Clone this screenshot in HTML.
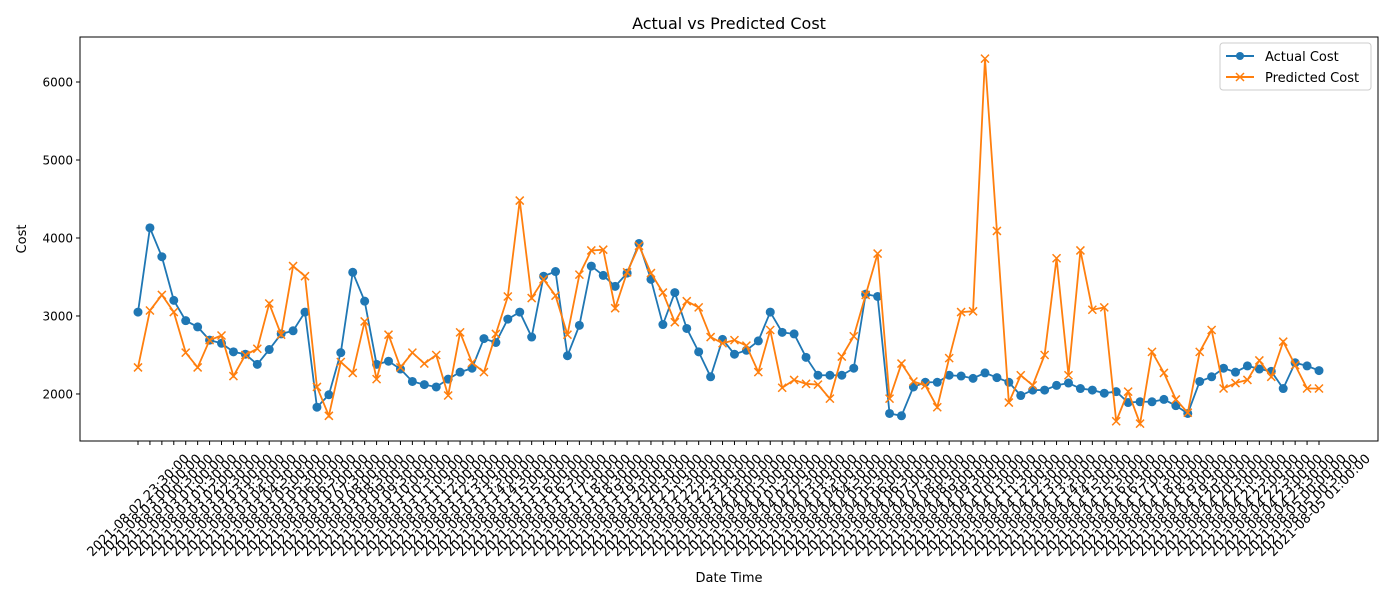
<!DOCTYPE html>
<html><head><meta charset="utf-8"><style>
body{margin:0;background:#fff;font-family:"Liberation Sans","DejaVu Sans",sans-serif;}
svg text{font-family:"DejaVu Sans","Liberation Sans",sans-serif;}
</style></head><body>
<svg id="chart" width="1400" height="600" xmlns="http://www.w3.org/2000/svg">
<text x="729" y="29" font-size="16" text-anchor="middle">Actual vs Predicted Cost</text>
<text x="729" y="582" font-size="13" text-anchor="middle">Date Time</text>
<text x="26" y="239" font-size="13" text-anchor="middle" transform="rotate(-90 26 239)">Cost</text>
<g id="grid"></g>
<g id="series"></g>
<rect x="80" y="37" width="1298" height="404" fill="none" stroke="#000" stroke-width="1"/>
<g>
<rect x="1220" y="43" width="151" height="47" rx="3" fill="#fff" stroke="#ccc"/>
<g>
<line x1="1226" y1="56" x2="1254" y2="56" stroke="#1f77b4" stroke-width="2"/><circle cx="1240" cy="56" r="4" fill="#1f77b4"/>
<text x="1265" y="61" font-size="13">Actual Cost</text></g>
<g>
<line x1="1226" y1="77" x2="1254" y2="77" stroke="#ff7f0e" stroke-width="2"/><path d="M1236,73 l8,8 M1244,73 l-8,8" stroke="#ff7f0e" stroke-width="1.5"/>
<text x="1265" y="82" font-size="13">Predicted Cost</text></g>
</g>
</svg>
<script>
const actual=[3050,4130,3760,3200,2940,2860,2690,2650,2540,2510,2380,2570,2770,2810,3050,1830,1990,2530,3560,3190,2380,2420,2320,2160,2120,2090,2190,2280,2330,2710,2660,2960,3050,2730,3510,3570,2490,2880,3640,3520,3380,3550,3930,3470,2890,3300,2840,2540,2220,2700,2510,2560,2680,3050,2790,2770,2470,2240,2240,2240,2330,3280,3250,1750,1720,2090,2150,2150,2240,2230,2200,2270,2210,2150,1980,2050,2050,2110,2140,2070,2050,2010,2030,1890,1900,1900,1930,1850,1750,2160,2220,2330,2280,2360,2320,2290,2070,2400,2360,2300];
const predicted=[2340,3070,3270,3050,2530,2340,2690,2750,2230,2500,2580,3160,2760,3640,3510,2090,1720,2410,2270,2930,2190,2760,2340,2530,2390,2500,1980,2790,2400,2280,2770,3250,4480,3230,3470,3260,2760,3530,3840,3850,3100,3560,3900,3550,3300,2920,3190,3110,2730,2650,2690,2620,2280,2820,2080,2180,2130,2120,1940,2480,2740,3270,3800,1940,2390,2160,2110,1830,2460,3050,3060,6300,4090,1890,2240,2110,2500,3740,2240,3840,3080,3110,1650,2030,1620,2540,2270,1930,1760,2540,2820,2070,2140,2180,2430,2220,2670,2370,2070,2070];
const yTicks=[2000,3000,4000,5000,6000];
const startTime=Date.UTC(2021,7,2,23,30);
const categories=[];
for(let i=0;i<actual.length;i++){
  const d=new Date(startTime+i*1800000);
  const p=n=>String(n).padStart(2,'0');
  categories.push(`${d.getUTCFullYear()}-${p(d.getUTCMonth()+1)}-${p(d.getUTCDate())} ${p(d.getUTCHours())}:${p(d.getUTCMinutes())}:00`);
}
const NS="http://www.w3.org/2000/svg";
const X0=138,X1=1319,yMin=1397,yMax=6577,plotTop=37,plotBot=441;
const xs=i=>X0+(X1-X0)*i/(categories.length-1);
const ys=v=>plotBot-(v-yMin)/(yMax-yMin)*(plotBot-plotTop);
function mk(tag,attrs,parent){const e=document.createElementNS(NS,tag);for(const k in attrs)e.setAttribute(k,attrs[k]);parent.appendChild(e);return e;}
const grid=document.getElementById('grid');
yTicks.forEach(t=>{
  const y=ys(t);
  const l=mk('line',{x1:76,x2:80,y1:y,y2:y,stroke:'#000'},grid);
  
  
  const tx=mk('text',{x:73,y:y+4.5,'font-size':12,'text-anchor':'end'},grid);
  tx.textContent=t;
  
  
});
categories.forEach((c,i)=>{
  const x=xs(i);
  const l=mk('line',{x1:x,x2:x,y1:441,y2:445,stroke:'#000'},grid);
  
  
  const cy=505;
  const tx=mk('text',{x:x,y:cy+4.5,'font-size':13,'text-anchor':'middle',transform:`rotate(-45 ${x} ${cy})`},grid);
  tx.textContent=c;
  
  
});
const ser=document.getElementById('series');
function draw(vals,color,kind,name){
  const g=mk('g',{},ser);
  
  
  const pl=mk('polyline',{points:vals.map((v,i)=>xs(i)+','+ys(v)).join(' '),fill:'none',stroke:color,'stroke-width':1.8},g);
  
  
  vals.forEach((v,i)=>{
    const x=xs(i),y=ys(v);
    let m;
    if(kind==='o') m=mk('circle',{cx:x,cy:y,r:4.5,fill:color},g);
    else m=mk('path',{d:`M${x-4},${y-4}L${x+4},${y+4}M${x+4},${y-4}L${x-4},${y+4}`,stroke:color,'stroke-width':1.5},g);
    
    
  });
}
draw(actual,'#1f77b4','o','actual-cost-series');
draw(predicted,'#ff7f0e','x','predicted-cost-series');
</script>
</body></html>
